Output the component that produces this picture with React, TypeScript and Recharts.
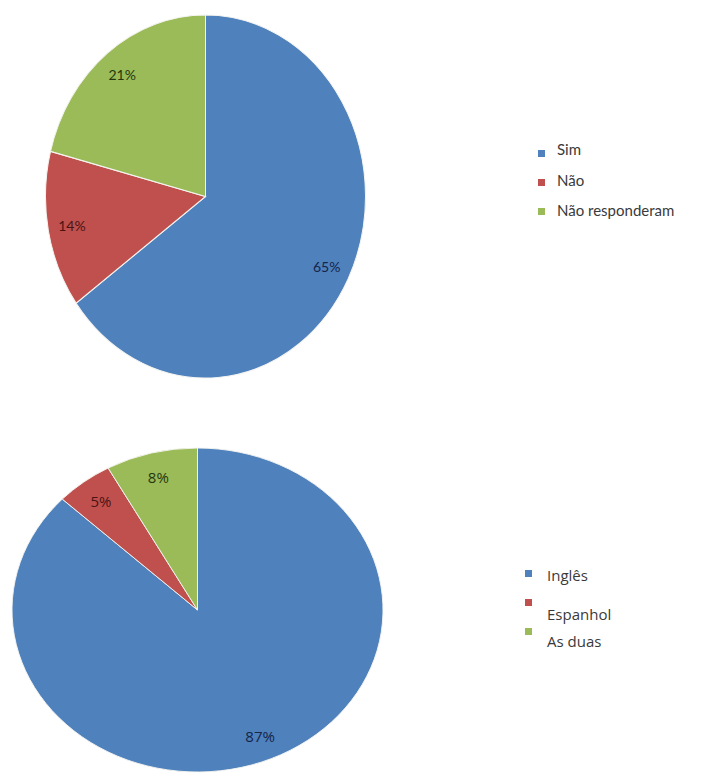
import React from "react";
import { PieChart, Pie, Cell } from "recharts";

// first question: yes / no / no answer
const respostaNames = ["Sim", "Não", "Não responderam"];
const respostaValues = [65, 14, 21];

// second question: which language
const idiomaNames = ["Inglês", "Espanhol", "As duas"];
const idiomaValues = [87, 5, 8];

const COLORS = ["#4F81BD", "#C0504D", "#9BBB59"];
const LABEL_COLORS = ["#14264a", "#4a1414", "#24380e"];
const RAD = Math.PI / 180;

interface EllipsePieProps {
  left: number;
  top: number;
  width: number;
  height: number;
  cx: number;
  cy: number;
  rx: number;
  ry: number;
  names: string[];
  values: number[];
  font: string;
  fontSize: number;
}

// excel exported the pies stretched, so draw a circle and squash it
function EllipsePie({ left, top, width, height, cx, cy, rx, ry, names, values, font, fontSize }: EllipsePieProps) {
  const k = ry / rx;
  const data = names.map((name, i) => ({ name, value: values[i] }));

  const renderLabel = (props: any) => {
    const { cx: px, cy: py, midAngle, outerRadius, index } = props;
    const r = outerRadius * 0.85;
    const x = px + r * Math.cos(-midAngle * RAD);
    const y = py + r * Math.sin(-midAngle * RAD);
    return (
      <text
        x={0}
        y={0}
        transform={`translate(${x},${y}) scale(1,${1 / k})`}
        textAnchor="middle"
        dominantBaseline="central"
        fill={LABEL_COLORS[index]}
        fontFamily={font}
        fontSize={fontSize}
      >
        {values[index]}%
      </text>
    );
  };

  return (
    <div
      style={{
        position: "absolute",
        left,
        top,
        width,
        height,
        transform: `scaleY(${k})`,
        transformOrigin: `${cx}px ${cy}px`,
      }}
    >
      <PieChart width={width} height={height} margin={{ top: 0, right: 0, bottom: 0, left: 0 }}>
        <Pie
          data={data}
          dataKey="value"
          nameKey="name"
          cx={cx}
          cy={cy}
          outerRadius={rx}
          startAngle={90}
          endAngle={-270}
          stroke="#f4f4f0"
          strokeWidth={1}
          label={renderLabel}
          labelLine={false}
          isAnimationActive={false}
        >
          {data.map((d, i) => (
            <Cell key={d.name} fill={COLORS[i]} />
          ))}
        </Pie>
      </PieChart>
    </div>
  );
}

interface LegendProps {
  names: string[];
  squareX: number;
  squareYs: number[];
  textX: number;
  textYs: number[];
  font: string;
  fontSize: number;
}

function SideLegend({ names, squareX, squareYs, textX, textYs, font, fontSize }: LegendProps) {
  return (
    <>
      {names.map((name, i) => (
        <React.Fragment key={name}>
          <div
            style={{
              position: "absolute",
              left: squareX,
              top: squareYs[i] - 4,
              width: 7,
              height: 7,
              background: COLORS[i],
            }}
          />
          <div
            style={{
              position: "absolute",
              left: textX,
              top: textYs[i] - 10,
              height: 20,
              lineHeight: "20px",
              fontFamily: font,
              fontSize,
              color: "#3a3a3a",
              whiteSpace: "nowrap",
            }}
          >
            {name}
          </div>
        </React.Fragment>
      ))}
    </>
  );
}

export default function App() {
  return (
    <div
      style={{
        position: "absolute",
        left: 0,
        top: 0,
        width: 728,
        height: 773,
        overflow: "hidden",
        background: "#ffffff",
      }}
    >
      <EllipsePie
        left={0}
        top={0}
        width={400}
        height={400}
        cx={205.5}
        cy={196.5}
        rx={160}
        ry={181.5}
        names={respostaNames}
        values={respostaValues}
        font="Lato"
        fontSize={14}
      />
      <SideLegend
        names={respostaNames}
        squareX={538}
        squareYs={[154, 183, 212]}
        textX={557}
        textYs={[149, 180, 210]}
        font="Lato"
        fontSize={15}
      />
      <EllipsePie
        left={0}
        top={400}
        width={400}
        height={400}
        cx={197.5}
        cy={210}
        rx={185.5}
        ry={162}
        names={idiomaNames}
        values={idiomaValues}
        font="Open Sans"
        fontSize={15}
      />
      <SideLegend
        names={idiomaNames}
        squareX={525}
        squareYs={[574, 603, 632]}
        textX={547}
        textYs={[575, 614, 641]}
        font="Open Sans"
        fontSize={15}
      />
    </div>
  );
}
